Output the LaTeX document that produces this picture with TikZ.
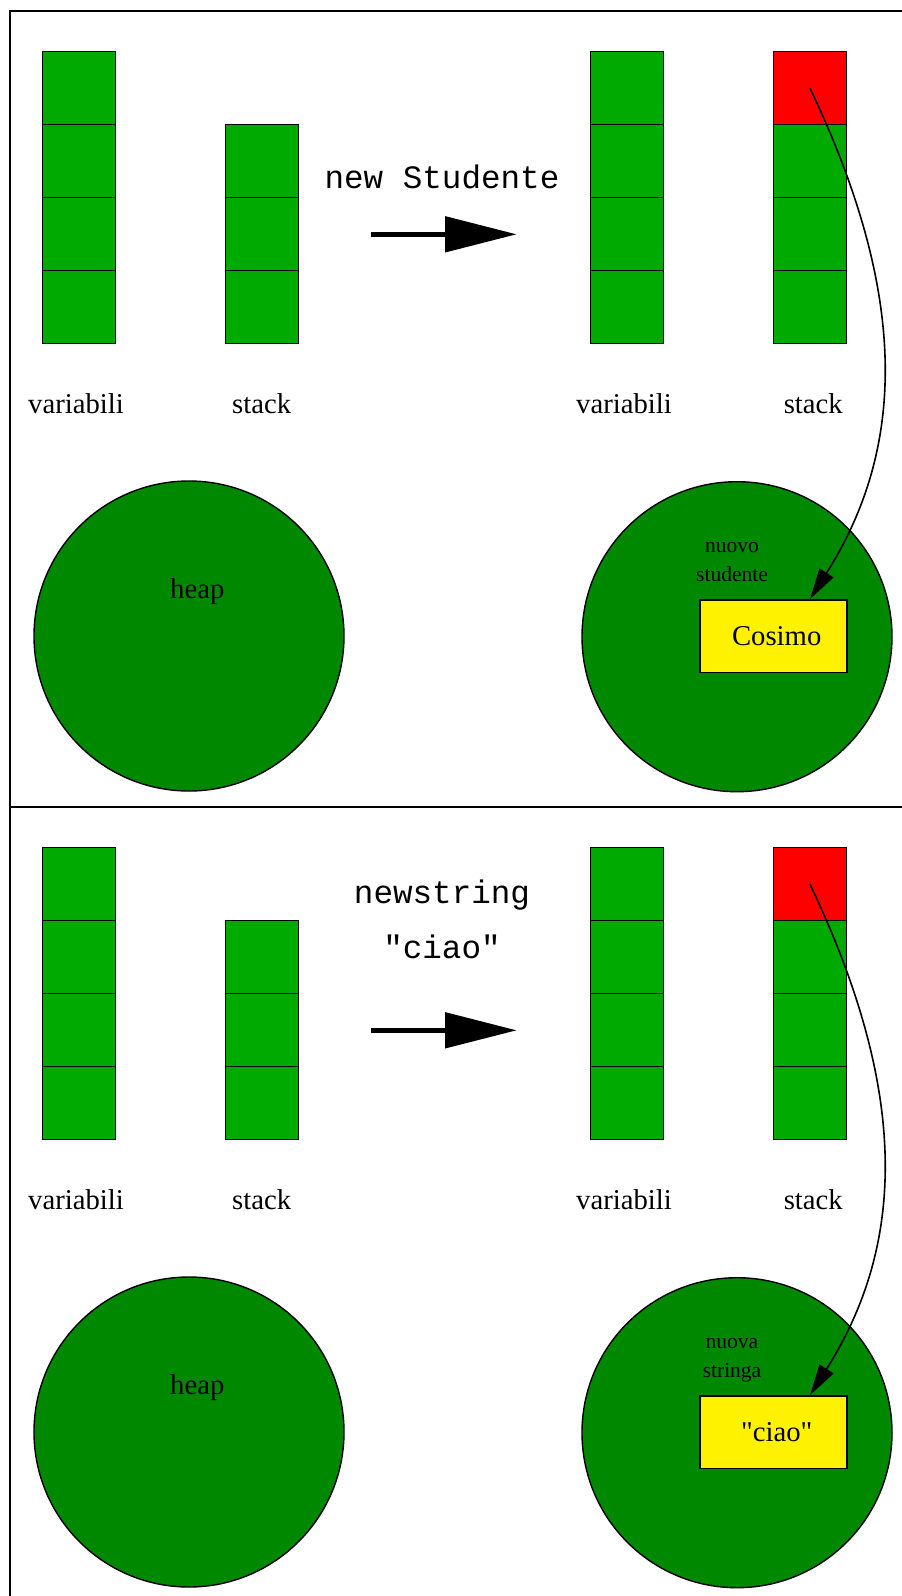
\documentclass[tikz,border=0pt]{standalone}
\usepackage{fontspec}
\setmainfont{Liberation Serif}
\setmonofont{Liberation Mono}
\usetikzlibrary{arrows.meta}

\definecolor{verdecella}{RGB}{0,170,0}
\definecolor{verdeheap}{RGB}{0,136,0}

\begin{document}
\begin{tikzpicture}[x=0.5pt, y=-0.5pt,
    cella/.style={draw, fill=verdecella, line width=0.5pt, minimum size=36.5pt, inner sep=0pt},
    heap/.style={circle, draw, fill=verdeheap, line width=0.7pt, minimum size=155pt, inner sep=0pt},
    oggetto/.style={draw, fill=yellow, line width=0.9pt, minimum width=73.3pt, minimum height=36.2pt,
        inner sep=0pt, font=\fontsize{14.35}{17}\selectfont},
    testo/.style={anchor=base, inner sep=0pt, font=\fontsize{14.35}{17}\selectfont},
    piccolo/.style={anchor=base, inner sep=0pt, align=center, font=\fontsize{10.75}{14.7}\selectfont},
    comando/.style={anchor=base, inner sep=0pt, align=center, font=\ttfamily\fontsize{16.3}{27.5}\selectfont}]

  \useasboundingbox (0,0) rectangle (901,1596);

  \foreach [count=\p] \oy/\cy/\cmd/\nome/\val in
      {0/188.3/{new Studente}/{nuovo\\studente}/Cosimo,
       796/162.3/{newstring\\"ciao"}/{nuova\\stringa}/{\textquotedbl ciao\textquotedbl}} {

    % cornice del riquadro
    \draw[line width=1pt] (905,\oy+10.7) -- (10,\oy+10.7) -- (10,\oy+806.7);

    % colonne di celle: variabili e stack, prima e dopo
    \foreach \x/\da/\col in {79/0/va, 262/1/sa, 627.2/0/vb, 810/1/sb}
      \foreach \c in {\da,...,3}
        \node[cella] (\col\p-\c) at (\x,{\oy+88.2+73*\c}) {};
    \node[cella, fill=red] (rif\p) at (810,\oy+88.2) {};

    \foreach \x/\t [count=\k] in {76/variabili, 261.7/stack, 624/variabili, 813.3/stack}
      \node[testo] (lab\p-\k) at (\x,\oy+413.3) {\t};

    % heap
    \node[heap] (heapsx\p) at (189,\oy+636) {};
    \node[heap] (heapdx\p) at (737,\oy+636.7) {};
    \node[testo] (heaplab\p) at (197.3,\oy+598.3) {heap};
    \node[piccolo] (nome\p) at (732,\oy+581.7) {\nome};
    \node[oggetto] (box\p) at (773.3,\oy+636.2) {\hspace*{3.4pt}\val};

    % istruzione e freccia
    \node[comando] (cmd\p) at (442,\oy+\cy) {\cmd};
    \coordinate (da\p) at (371,\oy+234.3);
    \coordinate (a\p) at (516.7,\oy+234.3);
    \draw[line width=2.5pt, -{Triangle[length=35.8pt,width=17.5pt]}] (da\p) -- (a\p);

    \draw[line width=0.8pt, -{Triangle[length=15.5pt,width=8.2pt]}]
      (rif\p.center) .. controls +(100,210) and +(95,-150) .. (box\p.north -| rif\p);
  }

\end{tikzpicture}
\end{document}
